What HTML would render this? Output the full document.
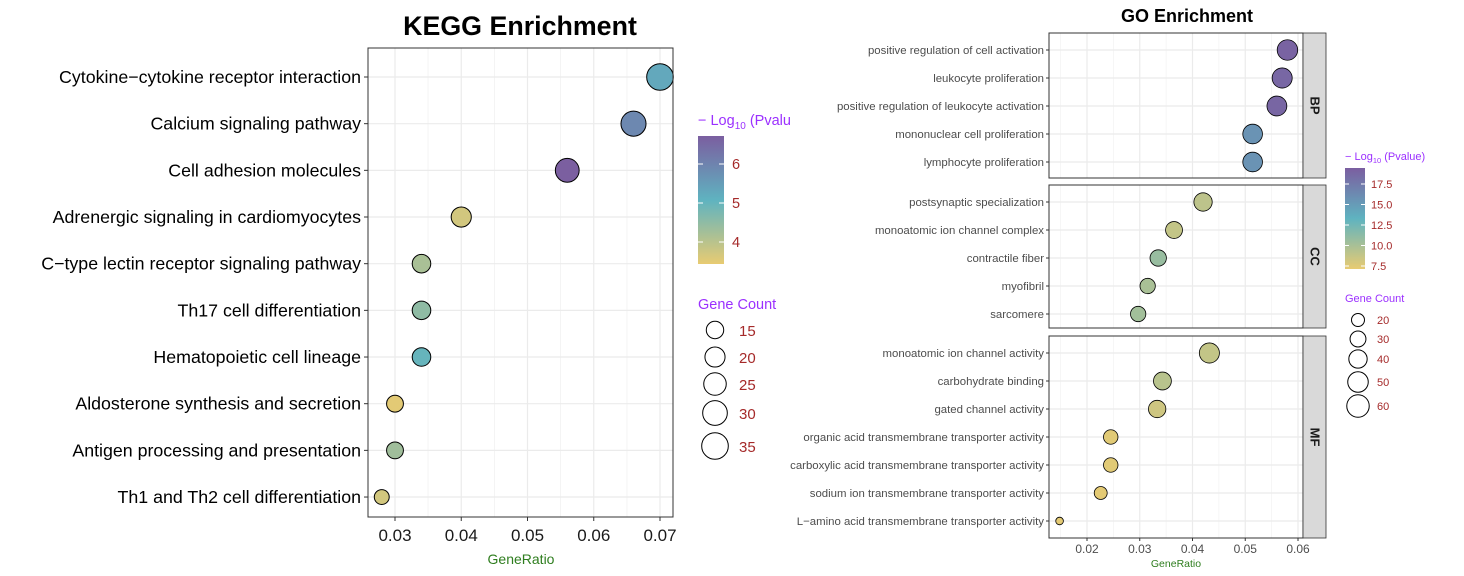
<!DOCTYPE html>
<html><head><meta charset="utf-8"><style>
html,body{margin:0;padding:0;background:#fff;width:1464px;height:576px;overflow:hidden}
svg{display:block;font-family:"Liberation Sans",sans-serif}
</style></head><body>
<svg id="chart" width="1464" height="576" viewBox="0 0 1464 576"></svg>
<script>
// KEGG data
const keggTerms=["Cytokine\u2212cytokine receptor interaction","Calcium signaling pathway","Cell adhesion molecules","Adrenergic signaling in cardiomyocytes","C\u2212type lectin receptor signaling pathway","Th17 cell differentiation","Hematopoietic cell lineage","Aldosterone synthesis and secretion","Antigen processing and presentation","Th1 and Th2 cell differentiation"];
const keggRatio=[0.070,0.066,0.056,0.040,0.034,0.034,0.034,0.030,0.030,0.028];
const keggCount=[35,31,28,20,17,17,17,14,14,11];
const keggLogP=[5.3,5.9,6.7,3.7,4.2,4.5,5.0,3.5,4.3,3.7];
const keggXTicks=[0.03,0.04,0.05,0.06,0.07];
const keggColorTicks=[4,5,6];
const keggSizeTicks=[15,20,25,30,35];
// GO data
const goBPTerms=["positive regulation of cell activation","leukocyte proliferation","positive regulation of leukocyte activation","mononuclear cell proliferation","lymphocyte proliferation"];
const goBPRatio=[0.058,0.057,0.056,0.0514,0.0514];
const goBPCount=[50,48,47,46,46];
const goBPLogP=[19.5,19.2,19.3,16.0,16.0];
const goCCTerms=["postsynaptic specialization","monoatomic ion channel complex","contractile fiber","myofibril","sarcomere"];
const goCCRatio=[0.042,0.0365,0.0335,0.0315,0.0297];
const goCCCount=[40,34,32,28,28];
const goCCLogP=[9.3,9.0,11.0,10.2,10.5];
const goMFTerms=["monoatomic ion channel activity","carbohydrate binding","gated channel activity","organic acid transmembrane transporter activity","carboxylic acid transmembrane transporter activity","sodium ion transmembrane transporter activity","L\u2212amino acid transmembrane transporter activity"];
const goMFRatio=[0.0432,0.0343,0.0333,0.0245,0.0245,0.0226,0.0148];
const goMFCount=[48,38,36,25,25,20,7];
const goMFLogP=[9.0,9.5,8.5,7.6,7.6,7.5,7.5];
const goXTicks=[0.02,0.03,0.04,0.05,0.06];
const goColorTicks=[7.5,10.0,12.5,15.0,17.5];
const goSizeTicks=[20,30,40,50,60];

const S=document.getElementById('chart');
const NS='http://www.w3.org/2000/svg';
function mk(tag,attrs,parent){const e=document.createElementNS(NS,tag);for(const k in attrs)e.setAttribute(k,attrs[k]);(parent||S).appendChild(e);return e;}
function txt(s,attrs,parent){const e=mk('text',attrs,parent);e.textContent=s;return e;}
const stops=[[0,[232,203,114]],[0.5,[95,179,192]],[1,[123,94,160]]];
function col(t){t=Math.max(0,Math.min(1,t));let a=stops[0],b=stops[1];if(t>0.5){a=stops[1];b=stops[2];}
 const u=(t-a[0])/(b[0]-a[0]);const c=a[1].map((v,i)=>Math.round(v+(b[1][i]-v)*u));return 'rgb('+c.join(',')+')';}
function grad(id){const g=mk('linearGradient',{id:id,x1:0,y1:1,x2:0,y2:0},S);
 stops.forEach(s=>{mk('stop',{offset:s[0],'stop-color':'rgb('+s[1].join(',')+')'},g);});}
grad('g1');grad('g2');

// ---------- KEGG ----------
const kx0=368,kx1=673,ky0=48,ky1=517;
const kX=v=>395+(v-0.03)*6625;
const kY=i=>77+i*46.67;
const kR=n=>2.25*Math.sqrt(n);
const kC=p=>col((p-3.44)/(6.72-3.44));
const kTitle=txt('KEGG Enrichment',{x:520,y:35,'text-anchor':'middle','font-size':26.8,'font-weight':'bold'});

const kp=mk('g',{});
mk('rect',{x:kx0,y:ky0,width:kx1-kx0,height:ky1-ky0,fill:'#fff'},kp);
function vline(g,x,y0,y1,major,xa,xb){if(x<xa||x>xb)return;mk('line',{x1:x,x2:x,y1:y0,y2:y1,stroke:major?'#ebebeb':'#f3f3f3','stroke-width':major?1.2:0.8},g);}
keggXTicks.forEach(t=>{vline(kp,kX(t),ky0,ky1,true,kx0,kx1);vline(kp,kX(t-0.005),ky0,ky1,false,kx0,kx1);vline(kp,kX(t+0.005),ky0,ky1,false,kx0,kx1);});
keggTerms.forEach((t,i)=>{mk('line',{x1:kx0,x2:kx1,y1:kY(i),y2:kY(i),stroke:'#ebebeb','stroke-width':1.2},kp);
 mk('line',{x1:kx0-4,x2:kx0,y1:kY(i),y2:kY(i),stroke:'#333'});
 const l=txt(t,{x:kx0-7,y:kY(i)+6,'text-anchor':'end','font-size':17.8,fill:'#000'});
 
 });
keggRatio.forEach((v,i)=>{const c=mk('circle',{cx:kX(v),cy:kY(i),r:kR(keggCount[i]),fill:kC(keggLogP[i]),stroke:'#000','stroke-width':1});
 
 });
mk('rect',{x:kx0,y:ky0,width:kx1-kx0,height:ky1-ky0,fill:'none',stroke:'#333','stroke-width':1});
keggXTicks.forEach(t=>{mk('line',{x1:kX(t),x2:kX(t),y1:ky1,y2:ky1+4,stroke:'#333'});
 const l=txt(t.toFixed(2),{x:kX(t),y:ky1+24,'text-anchor':'middle','font-size':17,fill:'#1a1a1a'});
 });
const kxt=txt('GeneRatio',{x:521,y:564,'text-anchor':'middle','font-size':14,fill:'#2e7d1e'});

// KEGG legends
const kleg=mk('g',{});
const kt=txt('\u2212 Log',{x:698,y:125,'font-size':14.5,fill:'#9b30ff'},kleg);
const ks=mk('tspan',{'font-size':10,dy:4},kt);ks.textContent='10';const ks2=mk('tspan',{dy:-4},kt);ks2.textContent=' (Pvalu';
mk('rect',{x:698,y:136,width:26,height:128,fill:'url(#g1)'},kleg);
const kCY=p=>164+(6-p)*39;
keggColorTicks.forEach(t=>{mk('line',{x1:698,x2:703,y1:kCY(t),y2:kCY(t),stroke:'#fff','stroke-width':1},kleg);
 mk('line',{x1:719,x2:724,y1:kCY(t),y2:kCY(t),stroke:'#fff','stroke-width':1},kleg);
 txt(String(t),{x:732,y:kCY(t)+5,'font-size':14.5,fill:'#a52a2a'},kleg);});
const ksl=mk('g',{});
txt('Gene Count',{x:698,y:309,'font-size':14.5,fill:'#9b30ff'},ksl);
const kSY=[330,357,384,413,446];
keggSizeTicks.forEach((n,i)=>{mk('circle',{cx:715,cy:kSY[i],r:kR(n),fill:'none',stroke:'#000'},ksl);
 txt(String(n),{x:739,y:kSY[i]+6,'font-size':15,fill:'#a52a2a'},ksl);});

// ---------- GO ----------
const gx0=1049,gx1=1303;
const gX=v=>1087+(v-0.02)*5275;
const gR=n=>1.45*Math.sqrt(n);
const gC=p=>col((p-7.3)/(19.9-7.3));
const gTitle=txt('GO Enrichment',{x:1187,y:22,'text-anchor':'middle','font-size':18,'font-weight':'bold'});

function panel(name,terms,ratio,count,logp,y0,y1,yFirst){
 const g=mk('g',{});
 mk('rect',{x:gx0,y:y0,width:gx1-gx0,height:y1-y0,fill:'#fff'},g);
 goXTicks.forEach(t=>{vline(g,gX(t),y0,y1,true,gx0,gx1);vline(g,gX(t-0.005),y0,y1,false,gx0,gx1);});
 const Y=i=>yFirst+i*28;
 terms.forEach((t,i)=>{mk('line',{x1:gx0,x2:gx1,y1:Y(i),y2:Y(i),stroke:'#ebebeb','stroke-width':1.2},g);
  mk('line',{x1:gx0-3,x2:gx0,y1:Y(i),y2:Y(i),stroke:'#333'},g);
  const l=txt(t,{x:gx0-5,y:Y(i)+4,'text-anchor':'end','font-size':11.4,fill:'#4d4d4d'},g);
  });
 ratio.forEach((v,i)=>{const c=mk('circle',{cx:gX(v),cy:Y(i),r:gR(count[i]),fill:gC(logp[i]),stroke:'#000','stroke-width':0.8},g);
  
  });
 mk('rect',{x:gx0,y:y0,width:gx1-gx0,height:y1-y0,fill:'none',stroke:'#333','stroke-width':1},g);
 const st=mk('rect',{x:gx1,y:y0,width:23,height:y1-y0,fill:'#d9d9d9',stroke:'#333','stroke-width':0.8},g);
 
 const cy=(y0+y1)/2,cx=gx1+11.5;
 txt(name,{x:cx,y:cy,'text-anchor':'middle','font-size':13,'font-weight':'bold',fill:'#1a1a1a',transform:'rotate(90 '+cx+' '+cy+')',dy:4},g);
}
panel('BP',goBPTerms,goBPRatio,goBPCount,goBPLogP,33,178,50);
panel('CC',goCCTerms,goCCRatio,goCCCount,goCCLogP,185,328,202);
panel('MF',goMFTerms,goMFRatio,goMFCount,goMFLogP,336,538,353);
goXTicks.forEach(t=>{mk('line',{x1:gX(t),x2:gX(t),y1:538,y2:541,stroke:'#333'});
 const l=txt(t.toFixed(2),{x:gX(t),y:553,'text-anchor':'middle','font-size':12,fill:'#4d4d4d'});
 });
const gxt=txt('GeneRatio',{x:1176,y:567,'text-anchor':'middle','font-size':10.5,fill:'#2e7d1e'});

const gleg=mk('g',{});
const gt=txt('\u2212 Log',{x:1345,y:160,'font-size':11,fill:'#9b30ff'},gleg);
const gs=mk('tspan',{'font-size':7.5,dy:3},gt);gs.textContent='10';const gs2=mk('tspan',{dy:-3},gt);gs2.textContent=' (Pvalue)';
mk('rect',{x:1345,y:168,width:20,height:101,fill:'url(#g2)'},gleg);
const gCY=p=>184+(17.5-p)/2.5*20.5;
goColorTicks.forEach(t=>{mk('line',{x1:1345,x2:1349,y1:gCY(t),y2:gCY(t),stroke:'#fff'},gleg);
 mk('line',{x1:1361,x2:1365,y1:gCY(t),y2:gCY(t),stroke:'#fff'},gleg);
 txt(t.toFixed(1),{x:1371,y:gCY(t)+4,'font-size':11,fill:'#a52a2a'},gleg);});
const gsl=mk('g',{});
txt('Gene Count',{x:1345,y:302,'font-size':11,fill:'#9b30ff'},gsl);
const gSY=[320,339,359,382,406];
goSizeTicks.forEach((n,i)=>{mk('circle',{cx:1358,cy:gSY[i],r:gR(n),fill:'none',stroke:'#000'},gsl);
 txt(String(n),{x:1377,y:gSY[i]+4,'font-size':11,fill:'#a52a2a'},gsl);});
</script>
</body></html>
